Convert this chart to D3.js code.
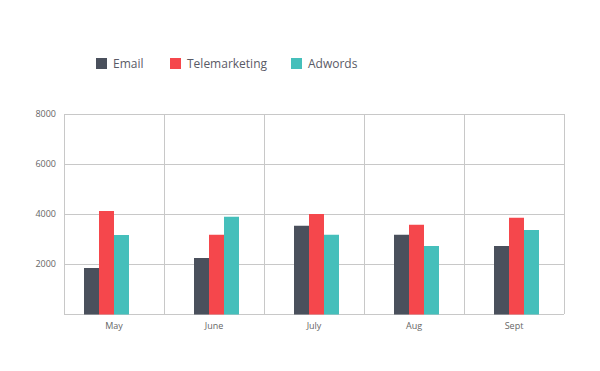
<!DOCTYPE html>
<html lang="en">
<head>
<meta charset="UTF-8">
<title>Campaigns</title>
<script src="https://cdn.jsdelivr.net/npm/d3@7"></script>
<style>
  body { margin: 0; background: #fff; }
  text { font-family: "Open Sans", "Noto Sans", sans-serif; }
</style>
</head>
<body>
<div id="chart"></div>
<script>
var months = ["May", "June", "July", "Aug", "Sept"];
var seriesNames = ["Email", "Telemarketing", "Adwords"];
var email = [1840, 2240, 3530, 3170, 2720];
var telemarketing = [4120, 3170, 4000, 3570, 3850];
var adwords = [3160, 3890, 3170, 2720, 3360];
var yTicks = [2000, 4000, 6000, 8000];
var colors = ["#4a505c", "#f5474c", "#45bfbb"];

var width = 600, height = 371;
// plot box (note: "top" is reserved on window, so use other names)
var plotL = 64, plotR = 564, plotT = 114, plotB = 314;
// the first group sits a bit further left than the others in the original
var groupShift = [20, 30, 30, 30, 30];

var svg = d3.select("#chart").append("svg")
    .attr("width", width)
    .attr("height", height);

var x = d3.scaleBand().domain(months).range([plotL, plotR]);
var y = d3.scaleLinear().domain([0, 8000]).range([plotB, plotT]);
var inner = d3.scaleBand().domain(seriesNames).range([0, 45]);

// grid
var grid = svg.append("g").attr("stroke", "#c8c8c8").attr("stroke-width", 1);
grid.selectAll("line.h")
    .data([0].concat(yTicks))
    .enter().append("line")
    .attr("x1", plotL).attr("x2", plotR)
    .attr("y1", function (d) { return y(d) + 0.5; })
    .attr("y2", function (d) { return y(d) + 0.5; });
grid.selectAll("line.v")
    .data(months.concat(["end"]))
    .enter().append("line")
    .attr("x1", function (d, i) { return plotL + i * x.bandwidth() + 0.5; })
    .attr("x2", function (d, i) { return plotL + i * x.bandwidth() + 0.5; })
    .attr("y1", plotT).attr("y2", plotB);

// bars
var data = [email, telemarketing, adwords];
months.forEach(function (m, i) {
    svg.append("g")
        .selectAll("rect")
        .data(seriesNames)
        .enter().append("rect")
        .attr("x", function (s) { return x(m) + groupShift[i] + inner(s); })
        .attr("width", inner.bandwidth())
        .attr("y", function (s, j) { return y(data[j][i]); })
        .attr("height", function (s, j) { return y(0) - y(data[j][i]) + 0.5; })
        .attr("fill", function (s, j) { return colors[j]; });
});

// y axis labels
svg.append("g")
    .selectAll("text")
    .data(yTicks)
    .enter().append("text")
    .attr("x", 56)
    .attr("y", function (d) { return y(d) + 3; })
    .attr("text-anchor", "end")
    .attr("font-size", 9)
    .attr("fill", "#666")
    .text(function (d) { return d; });

// x axis labels
svg.append("g")
    .selectAll("text")
    .data(months)
    .enter().append("text")
    .attr("x", function (d) { return x(d) + x.bandwidth() / 2; })
    .attr("y", 329)
    .attr("text-anchor", "middle")
    .attr("font-size", 9)
    .attr("fill", "#666")
    .text(function (d) { return d; });

// legend
var legendX = [96, 170, 291];
var legend = svg.append("g")
    .selectAll("g")
    .data(seriesNames)
    .enter().append("g")
    .attr("transform", function (d, i) { return "translate(" + legendX[i] + ",58)"; });
legend.append("rect")
    .attr("width", 11).attr("height", 11)
    .attr("fill", function (d, i) { return colors[i]; });
legend.append("text")
    .attr("x", 17).attr("y", 10)
    .attr("font-size", 12)
    .attr("fill", "#5a5a66")
    .text(function (d) { return d; });
</script>
</body>
</html>
